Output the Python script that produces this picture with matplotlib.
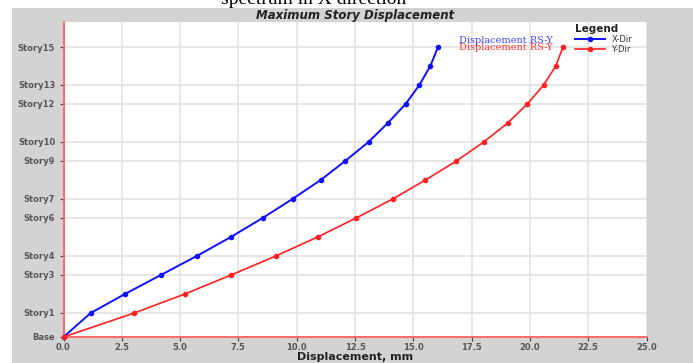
import matplotlib
matplotlib.use("Agg")
import matplotlib.pyplot as plt
from matplotlib.patches import Rectangle

# ---- data ----
stories = ["Base"] + [f"Story{i}" for i in range(1, 16)]
elevations = [0.0, 3.8, 6.8, 9.8, 12.8, 15.8, 18.8, 21.8, 24.8, 27.8,
              30.8, 33.8, 36.8, 39.8, 42.8, 45.8]
x_dir = [0.0, 1.17, 2.64, 4.18, 5.72, 7.18, 8.54, 9.82, 11.03, 12.08,
         13.08, 13.91, 14.67, 15.26, 15.73, 16.06]
y_dir = [0.0, 3.04, 5.21, 7.19, 9.11, 10.90, 12.55, 14.12, 15.52, 16.85,
         18.02, 19.05, 19.89, 20.59, 21.11, 21.42]
labeled = ["Base", "Story1", "Story3", "Story4", "Story6", "Story7",
           "Story9", "Story10", "Story12", "Story13", "Story15"]
x_ticks = [0.0, 2.5, 5.0, 7.5, 10.0, 12.5, 15.0, 17.5, 20.0, 22.5, 25.0]

W, H = 693, 363
fig = plt.figure(figsize=(W / 100, H / 100), dpi=100)
fig.patch.set_facecolor("white")

fig.text(314 / W, 1 - 4 / H, "spectrum in X direction", ha="center",
         va="baseline", family="Liberation Serif", fontsize=14,
         color="black", zorder=-2)
fig.add_artist(Rectangle((12 / W, 0), 1 - 12 / W, 1 - 8 / H,
                         transform=fig.transFigure, facecolor="#d3d3d3",
                         edgecolor="none", zorder=-1))

ax = fig.add_axes([63.5 / W, 26 / H, 583 / W, 315 / H])
ax.set_facecolor("white")

l1, = ax.plot(x_dir, elevations, color="#1010ff", lw=1.4, marker="o",
              ms=3.0, label="X-Dir", zorder=3, clip_on=False)
l2, = ax.plot(y_dir, elevations, color="#ff2020", lw=1.2, marker="o",
              ms=3.0, label="Y-Dir", zorder=3, clip_on=False)

ax.set_xlim(0, 25)
ax.set_ylim(0, 49.75)
ax.set_xticks(x_ticks)
ax.set_xticklabels([f"{v:.1f}" for v in x_ticks])
ytick_vals = [elevations[stories.index(s)] for s in labeled]
ax.set_yticks(ytick_vals)
ax.set_yticklabels(labeled)
ax.grid(True, color="#e2e2e2", lw=1.2, zorder=0)
ax.set_axisbelow(True)

for s in ["top", "right"]:
    ax.spines[s].set_visible(False)
for s in ["left", "bottom"]:
    ax.spines[s].set_color("#ff6060")
    ax.spines[s].set_linewidth(1.3)

ax.tick_params(axis="both", length=3, width=0.8, color="#444444",
               labelsize=6, labelcolor="#555555", pad=3)
ax.tick_params(axis="x", pad=1.5)
for lab in ax.get_xticklabels() + ax.get_yticklabels():
    lab.set_fontweight("bold")

fig.text(355 / W, 1 - 15 / H, "Maximum Story Displacement", ha="center",
         va="center", fontsize=8.5, weight="bold", style="italic",
         color="#222222")
fig.text(355 / W, 0.5 / H, "Displacement, mm", ha="center",
         va="bottom", fontsize=8, weight="bold", color="#222222")

ax.text(0.678, 0.94, "Displacement RS-Y", transform=ax.transAxes,
        family="DejaVu Serif", fontsize=7, color="#4040ff",
        va="center", ha="left")
ax.text(0.678, 0.92, "Displacement RS-Y", transform=ax.transAxes,
        family="DejaVu Serif", fontsize=7, color="#ff3030",
        va="center", ha="left")

leg = ax.legend(handles=[l1, l2], loc="upper left",
                bbox_to_anchor=(0.877, 0.995), frameon=False,
                title="Legend", alignment="left", fontsize=6,
                handlelength=3.6, handletextpad=0.8, labelspacing=0.15,
                borderpad=0, borderaxespad=0)
leg.get_title().set_fontsize(7.5)
leg.get_title().set_fontweight("bold")
leg.get_title().set_color("#222222")
for t in leg.get_texts():
    t.set_color("#333333")

fig.savefig("out.png", dpi=100)
